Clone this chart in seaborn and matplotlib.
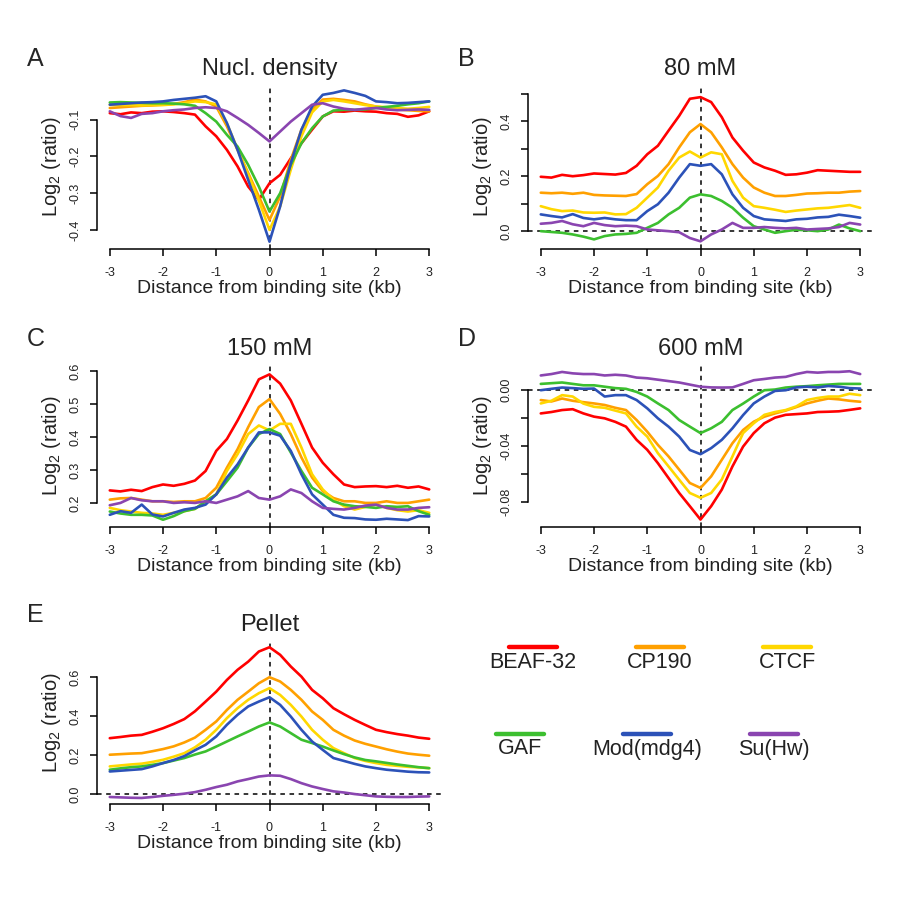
import numpy as np
import pandas as pd
import matplotlib
matplotlib.use("Agg")
import matplotlib.pyplot as plt
import seaborn as sns

sns.set_style("white")
plt.rcParams['font.family'] = ['Liberation Sans', 'DejaVu Sans']
plt.rcParams['mathtext.default'] = 'regular'
plt.rcParams['axes.unicode_minus'] = False

# distance from binding site (kb), 0.2 kb steps
dist = np.linspace(-3, 3, 31)

factors = ['BEAF-32', 'CP190', 'CTCF', 'GAF', 'Mod(mdg4)', 'Su(Hw)']
colors = ['#ff0000', '#ffa000', '#ffd700', '#3cbf2f', '#2c52b8', '#8a45b0']

# A: nucleosome density
nucl_beaf = [-0.082, -0.085, -0.080, -0.082, -0.078, -0.077, -0.079, -0.082, -0.086, -0.118, -0.145, -0.182, -0.227, -0.282, -0.318, -0.273, -0.250, -0.205, -0.164, -0.127, -0.091, -0.077, -0.078, -0.075, -0.077, -0.078, -0.082, -0.084, -0.092, -0.088, -0.077]
nucl_cp190 = [-0.068, -0.066, -0.064, -0.062, -0.061, -0.059, -0.057, -0.052, -0.045, -0.050, -0.064, -0.118, -0.182, -0.245, -0.309, -0.373, -0.309, -0.209, -0.127, -0.073, -0.045, -0.043, -0.046, -0.050, -0.058, -0.064, -0.068, -0.072, -0.074, -0.076, -0.077]
nucl_ctcf = [-0.059, -0.060, -0.060, -0.061, -0.060, -0.060, -0.058, -0.055, -0.050, -0.052, -0.058, -0.110, -0.180, -0.250, -0.320, -0.400, -0.336, -0.236, -0.145, -0.080, -0.050, -0.046, -0.050, -0.055, -0.060, -0.064, -0.066, -0.068, -0.070, -0.068, -0.065]
nucl_gaf = [-0.053, -0.052, -0.053, -0.054, -0.055, -0.055, -0.056, -0.058, -0.062, -0.082, -0.105, -0.141, -0.173, -0.223, -0.282, -0.350, -0.300, -0.223, -0.164, -0.123, -0.091, -0.075, -0.073, -0.073, -0.072, -0.068, -0.065, -0.062, -0.058, -0.055, -0.050]
nucl_mod = [-0.059, -0.057, -0.055, -0.053, -0.052, -0.050, -0.046, -0.043, -0.040, -0.036, -0.050, -0.109, -0.182, -0.264, -0.345, -0.432, -0.336, -0.218, -0.127, -0.064, -0.032, -0.027, -0.020, -0.027, -0.035, -0.050, -0.052, -0.055, -0.054, -0.052, -0.050]
nucl_suhw = [-0.077, -0.090, -0.095, -0.084, -0.082, -0.077, -0.074, -0.072, -0.068, -0.066, -0.068, -0.077, -0.095, -0.114, -0.136, -0.159, -0.132, -0.105, -0.082, -0.059, -0.055, -0.064, -0.070, -0.073, -0.070, -0.068, -0.072, -0.074, -0.073, -0.072, -0.073]

# B: 80 mM
mm80_beaf = [0.198, 0.195, 0.205, 0.200, 0.204, 0.210, 0.208, 0.206, 0.212, 0.238, 0.280, 0.311, 0.366, 0.420, 0.482, 0.488, 0.470, 0.415, 0.341, 0.293, 0.250, 0.232, 0.220, 0.205, 0.207, 0.213, 0.222, 0.220, 0.218, 0.216, 0.216]
mm80_cp190 = [0.140, 0.138, 0.140, 0.136, 0.140, 0.132, 0.130, 0.129, 0.128, 0.135, 0.171, 0.201, 0.244, 0.305, 0.360, 0.390, 0.360, 0.305, 0.244, 0.195, 0.159, 0.140, 0.128, 0.128, 0.132, 0.137, 0.138, 0.140, 0.140, 0.144, 0.146]
mm80_ctcf = [0.091, 0.080, 0.073, 0.075, 0.068, 0.067, 0.068, 0.061, 0.062, 0.085, 0.122, 0.159, 0.220, 0.268, 0.290, 0.268, 0.287, 0.280, 0.183, 0.122, 0.091, 0.085, 0.078, 0.070, 0.075, 0.079, 0.083, 0.085, 0.090, 0.095, 0.085]
mm80_gaf = [0.000, -0.003, -0.006, -0.012, -0.020, -0.030, -0.018, -0.012, -0.010, -0.006, 0.012, 0.030, 0.061, 0.085, 0.122, 0.134, 0.128, 0.110, 0.085, 0.049, 0.018, 0.006, -0.006, 0.000, 0.005, 0.003, 0.000, 0.006, 0.024, 0.010, 0.000]
mm80_mod = [0.061, 0.055, 0.050, 0.062, 0.048, 0.043, 0.048, 0.043, 0.040, 0.040, 0.073, 0.098, 0.140, 0.195, 0.244, 0.238, 0.244, 0.207, 0.134, 0.085, 0.055, 0.043, 0.040, 0.037, 0.043, 0.045, 0.050, 0.052, 0.060, 0.055, 0.049]
mm80_suhw = [0.027, 0.030, 0.037, 0.025, 0.018, 0.030, 0.022, 0.018, 0.020, 0.018, 0.006, 0.003, 0.000, -0.004, -0.025, -0.037, -0.012, 0.006, 0.030, 0.012, 0.012, 0.015, 0.012, 0.010, 0.012, 0.006, 0.008, 0.010, 0.015, 0.030, 0.024]

# C: 150 mM
mm150_beaf = [0.238, 0.235, 0.240, 0.236, 0.248, 0.256, 0.252, 0.258, 0.268, 0.297, 0.358, 0.394, 0.450, 0.511, 0.575, 0.590, 0.562, 0.511, 0.440, 0.368, 0.322, 0.287, 0.256, 0.248, 0.250, 0.251, 0.248, 0.252, 0.246, 0.250, 0.241]
mm150_cp190 = [0.210, 0.214, 0.215, 0.210, 0.205, 0.205, 0.203, 0.205, 0.205, 0.215, 0.246, 0.307, 0.363, 0.430, 0.491, 0.515, 0.470, 0.409, 0.338, 0.277, 0.236, 0.215, 0.205, 0.205, 0.200, 0.200, 0.205, 0.200, 0.200, 0.205, 0.210]
mm150_ctcf = [0.185, 0.178, 0.174, 0.170, 0.168, 0.164, 0.170, 0.175, 0.182, 0.205, 0.226, 0.297, 0.348, 0.409, 0.435, 0.420, 0.440, 0.440, 0.368, 0.287, 0.241, 0.210, 0.190, 0.180, 0.188, 0.195, 0.185, 0.178, 0.174, 0.178, 0.170]
mm150_gaf = [0.174, 0.168, 0.164, 0.164, 0.162, 0.149, 0.160, 0.175, 0.182, 0.205, 0.226, 0.266, 0.307, 0.368, 0.409, 0.424, 0.409, 0.353, 0.297, 0.246, 0.226, 0.205, 0.195, 0.190, 0.188, 0.185, 0.190, 0.188, 0.190, 0.175, 0.164]
mm150_mod = [0.164, 0.175, 0.170, 0.195, 0.165, 0.159, 0.170, 0.180, 0.185, 0.195, 0.226, 0.277, 0.317, 0.368, 0.414, 0.414, 0.404, 0.358, 0.287, 0.226, 0.195, 0.164, 0.155, 0.154, 0.150, 0.149, 0.152, 0.150, 0.148, 0.160, 0.159]
mm150_suhw = [0.193, 0.200, 0.215, 0.208, 0.205, 0.205, 0.200, 0.202, 0.200, 0.205, 0.200, 0.210, 0.220, 0.236, 0.215, 0.210, 0.220, 0.241, 0.230, 0.205, 0.185, 0.182, 0.180, 0.185, 0.192, 0.195, 0.185, 0.180, 0.180, 0.185, 0.187]

# D: 600 mM
mm600_beaf = [-0.0170, -0.0160, -0.0146, -0.0140, -0.0170, -0.0193, -0.0205, -0.0230, -0.0264, -0.0358, -0.0429, -0.0524, -0.0630, -0.0736, -0.0830, -0.0925, -0.0830, -0.0712, -0.0547, -0.0406, -0.0310, -0.0240, -0.0200, -0.0180, -0.0175, -0.0170, -0.0160, -0.0158, -0.0155, -0.0145, -0.0134]
mm600_cp190 = [-0.0075, -0.0085, -0.0064, -0.0080, -0.0090, -0.0099, -0.0110, -0.0130, -0.0146, -0.0217, -0.0300, -0.0394, -0.0476, -0.0570, -0.0665, -0.0700, -0.0618, -0.0500, -0.0382, -0.0288, -0.0229, -0.0193, -0.0170, -0.0150, -0.0125, -0.0099, -0.0080, -0.0064, -0.0070, -0.0080, -0.0087]
mm600_ctcf = [-0.0099, -0.0080, -0.0040, -0.0050, -0.0100, -0.0123, -0.0130, -0.0150, -0.0170, -0.0264, -0.0335, -0.0453, -0.0547, -0.0642, -0.0736, -0.0770, -0.0736, -0.0640, -0.0476, -0.0310, -0.0240, -0.0180, -0.0160, -0.0146, -0.0120, -0.0075, -0.0060, -0.0050, -0.0050, -0.0030, -0.0040]
mm600_gaf = [0.0040, 0.0045, 0.0050, 0.0040, 0.0030, 0.0030, 0.0020, 0.0010, 0.0005, -0.0017, -0.0050, -0.0099, -0.0146, -0.0217, -0.0264, -0.0310, -0.0276, -0.0230, -0.0146, -0.0100, -0.0050, -0.0005, 0.0000, 0.0014, 0.0020, 0.0024, 0.0030, 0.0035, 0.0040, 0.0040, 0.0040]
mm600_mod = [-0.0005, 0.0005, 0.0014, 0.0010, 0.0005, 0.0007, -0.0050, -0.0040, -0.0040, -0.0075, -0.0134, -0.0205, -0.0264, -0.0335, -0.0430, -0.0460, -0.0417, -0.0358, -0.0276, -0.0182, -0.0099, -0.0050, -0.0010, -0.0005, 0.0015, 0.0020, 0.0015, 0.0025, 0.0020, 0.0010, 0.0007]
mm600_suhw = [0.0100, 0.0110, 0.0125, 0.0115, 0.0110, 0.0110, 0.0100, 0.0105, 0.0100, 0.0085, 0.0080, 0.0070, 0.0060, 0.0050, 0.0035, 0.0020, 0.0015, 0.0014, 0.0015, 0.0040, 0.0066, 0.0075, 0.0085, 0.0090, 0.0110, 0.0125, 0.0120, 0.0125, 0.0125, 0.0130, 0.0110]

# E: pellet
pel_beaf = [0.287, 0.293, 0.300, 0.304, 0.320, 0.338, 0.360, 0.385, 0.425, 0.475, 0.526, 0.586, 0.638, 0.680, 0.732, 0.754, 0.715, 0.655, 0.603, 0.535, 0.492, 0.441, 0.410, 0.381, 0.355, 0.330, 0.318, 0.308, 0.300, 0.290, 0.284]
pel_cp190 = [0.202, 0.205, 0.208, 0.210, 0.220, 0.231, 0.245, 0.265, 0.290, 0.330, 0.373, 0.432, 0.484, 0.526, 0.569, 0.600, 0.578, 0.535, 0.484, 0.424, 0.381, 0.330, 0.300, 0.275, 0.258, 0.244, 0.230, 0.218, 0.208, 0.202, 0.197]
pel_ctcf = [0.142, 0.147, 0.152, 0.156, 0.165, 0.176, 0.192, 0.210, 0.240, 0.279, 0.330, 0.390, 0.441, 0.484, 0.518, 0.544, 0.509, 0.458, 0.398, 0.330, 0.279, 0.236, 0.210, 0.185, 0.170, 0.159, 0.150, 0.145, 0.140, 0.137, 0.133]
pel_gaf = [0.125, 0.132, 0.138, 0.142, 0.150, 0.159, 0.172, 0.185, 0.203, 0.219, 0.244, 0.270, 0.296, 0.321, 0.347, 0.368, 0.347, 0.313, 0.279, 0.262, 0.244, 0.224, 0.205, 0.188, 0.175, 0.168, 0.160, 0.152, 0.145, 0.138, 0.133]
pel_mod = [0.116, 0.120, 0.124, 0.128, 0.142, 0.159, 0.175, 0.195, 0.225, 0.253, 0.296, 0.356, 0.407, 0.450, 0.475, 0.497, 0.458, 0.398, 0.330, 0.270, 0.227, 0.185, 0.170, 0.155, 0.142, 0.133, 0.125, 0.120, 0.115, 0.112, 0.111]
pel_suhw = [-0.015, -0.017, -0.019, -0.020, -0.015, -0.009, -0.004, 0.002, 0.010, 0.022, 0.036, 0.048, 0.065, 0.077, 0.090, 0.096, 0.094, 0.077, 0.056, 0.039, 0.026, 0.014, 0.008, 0.000, -0.006, -0.012, -0.014, -0.015, -0.015, -0.013, -0.012]

panels = [
    dict(letter='A', title='Nucl. density', series=[nucl_beaf, nucl_cp190, nucl_ctcf, nucl_gaf, nucl_mod, nucl_suhw],
         yticks=[-0.1, -0.2, -0.3, -0.4], ylabels=['-0.1', '-0.2', '-0.3', '-0.4'],
         ylim=(-0.452, -0.004), zero=False, pos=(97, 84.5, 249)),
    dict(letter='B', title='80 mM', series=[mm80_beaf, mm80_cp190, mm80_ctcf, mm80_gaf, mm80_mod, mm80_suhw],
         yticks=[0.0, 0.1, 0.2, 0.3, 0.4, 0.5], ylabels=['0.0', '', '0.2', '', '0.4', ''],
         ylim=(-0.065, 0.534), zero=True, pos=(528, 84.5, 249)),
    dict(letter='C', title='150 mM', series=[mm150_beaf, mm150_cp190, mm150_ctcf, mm150_gaf, mm150_mod, mm150_suhw],
         yticks=[0.2, 0.3, 0.4, 0.5, 0.6], ylabels=['0.2', '0.3', '0.4', '0.5', '0.6'],
         ylim=(0.127, 0.62), zero=False, pos=(97, 364.5, 527)),
    dict(letter='D', title='600 mM', series=[mm600_beaf, mm600_cp190, mm600_ctcf, mm600_gaf, mm600_mod, mm600_suhw],
         yticks=[0.0, -0.02, -0.04, -0.06, -0.08], ylabels=['0.00', '', '-0.04', '', '-0.08'],
         ylim=(-0.0978, 0.0178), zero=True, pos=(528, 364.5, 527)),
    dict(letter='E', title='Pellet', series=[pel_beaf, pel_cp190, pel_ctcf, pel_gaf, pel_mod, pel_suhw],
         yticks=[0.0, 0.2, 0.4, 0.6], ylabels=['0.0', '0.2', '0.4', '0.6'],
         ylim=(-0.051, 0.786), zero=True, pos=(97, 641, 804)),
]

W = H = 900
fig = plt.figure(figsize=(9, 9), dpi=100)
pal = dict(zip(factors, colors))

for p in panels:
    x0, top, bottom = p['pos']
    ax = fig.add_axes([x0 / W, 1 - bottom / H, 345 / W, (bottom - top) / H])
    df = pd.concat([pd.DataFrame({'dist': dist, 'log2': vals, 'factor': f})
                    for f, vals in zip(factors, p['series'])])
    sns.lineplot(data=df, x='dist', y='log2', hue='factor', palette=pal,
                 linewidth=1.9, legend=False, ax=ax)
    ax.axvline(0, color='black', linestyle=(0, (3, 3)), linewidth=1.1, zorder=0)
    if p['zero']:
        ax.axhline(0, color='black', linestyle=(0, (3, 3)), linewidth=1.1, zorder=0)

    ax.set_xlim(-3.24, 3.24)
    ax.set_ylim(*p['ylim'])
    ax.set_xticks([-3, -2, -1, 0, 1, 2, 3])
    ax.set_xticklabels(['-3', '-2', '-1', '0', '1', '2', '3'])
    ax.set_yticks(p['yticks'])
    ax.set_yticklabels(p['ylabels'], rotation=90, va='center')
    ax.tick_params(axis='both', direction='out', length=5, width=1.1,
                   labelsize=9, colors='black', labelcolor='#222222',
                   left=True, bottom=True)
    ax.tick_params(axis='x', pad=8)
    ax.tick_params(axis='y', pad=6)
    for s in ['top', 'right']:
        ax.spines[s].set_visible(False)
    for s in ['left', 'bottom']:
        ax.spines[s].set_color('black')
        ax.spines[s].set_linewidth(1.1)
    ax.spines['bottom'].set_bounds(-3, 3)
    ax.spines['left'].set_bounds(min(p['yticks']), max(p['yticks']))

    ax.set_xlabel('Distance from binding site (kb)', fontsize=14, labelpad=1, color='#222222')
    ax.set_ylabel('Log$_2$ (ratio)', fontsize=14.5, labelpad=5, color='#222222')
    ax.set_title(p['title'], fontsize=17, pad=7, color='#222222')
    fig.text((x0 - 70) / W, 1 - (top - 26) / H, p['letter'], fontsize=18,
             ha='left', va='center')

# legend panel
lax = fig.add_axes([0.5, 0.1, 0.5, 0.25])
lax.set_xlim(450, 900)
lax.set_ylim(825, 600)
lax.axis('off')
key_x = [533, 660, 787, 520, 647, 774]
key_y = [662, 662, 662, 749, 749, 749]
for f, c, kx, ky in zip(factors, colors, key_x, key_y):
    lax.plot([kx - 24, kx + 24], [ky, ky], color=c, linewidth=3.2, solid_capstyle='round')
    lax.text(kx, ky + 15, f, fontsize=15.5, ha='center', va='center', color='#222222')

fig.savefig('out.png', dpi=100)
